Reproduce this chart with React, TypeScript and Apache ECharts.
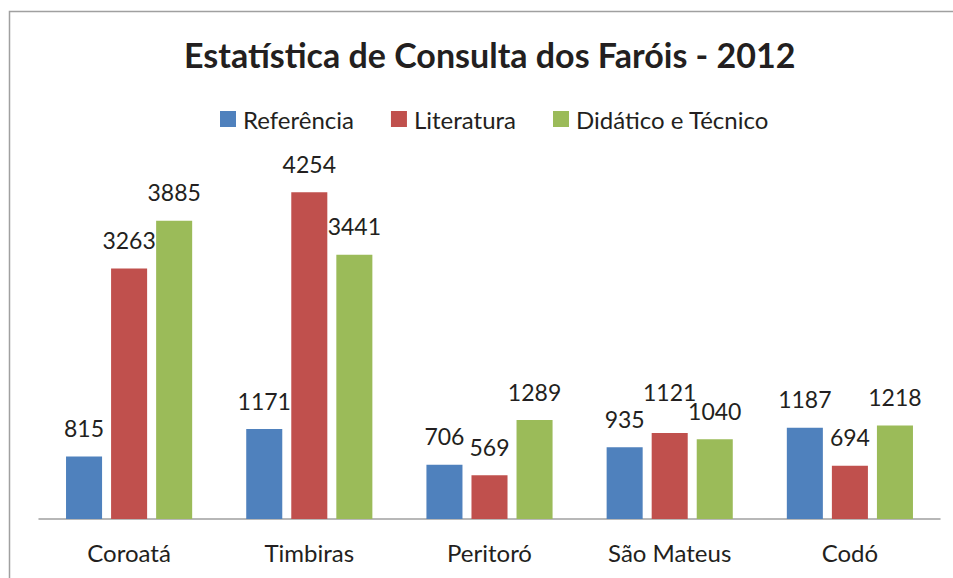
import React, { useEffect, useRef } from "react";
import * as echarts from "echarts";

const categories = ["Coroatá", "Timbiras", "Peritoró", "São Mateus", "Codó"];
const referencia = [815, 1171, 706, 935, 1187];
const literatura = [3263, 4254, 569, 1121, 694];
const didatico = [3885, 3441, 1289, 1040, 1218];
const seriesNames = ["Referência", "Literatura", "Didático e Técnico"];
const colors = ["#4F81BD", "#C0504D", "#9BBB59"];

const FONT = "Lato, 'Open Sans', sans-serif";

export default function App() {
  const ref = useRef<HTMLDivElement>(null);
  useEffect(() => {
    if (!ref.current) return;
    const chart = echarts.init(ref.current, undefined, { renderer: "svg" });
    const data = [referencia, literatura, didatico];
    chart.setOption({
      animation: false,
      backgroundColor: "#ffffff",
      textStyle: { fontFamily: FONT },
      title: {
        text: "Estatística de Consulta dos Faróis - 2012",
        left: 179,
        top: 32,
        textStyle: { fontFamily: FONT, fontSize: 34, fontWeight: "bold", color: "#231f20" },
      },
      legend: {
        data: seriesNames,
        top: 102,
        left: 215,
        itemWidth: 16,
        itemHeight: 16,
        itemGap: 37,
        icon: "rect",
        textStyle: { fontFamily: FONT, fontSize: 24, color: "#231f20", padding: [0, 0, 0, 2] },
      },
      graphic: [
        {
          type: "rect",
          shape: { x: 9.5, y: 11.5, width: 1000, height: 1000 },
          style: { fill: "none", stroke: "#a0a0a0", lineWidth: 1.5 },
          silent: true,
        },
      ],
      grid: { left: 39, right: 13, top: 135, bottom: 59, containLabel: false },
      xAxis: {
        type: "category",
        data: categories,
        axisTick: { show: false },
        axisLine: { lineStyle: { color: "#a0a0a0", width: 1.5 } },
        axisLabel: { fontFamily: FONT, fontSize: 24, color: "#231f20", margin: 21 },
      },
      yAxis: {
        type: "value",
        min: 0,
        max: 5000,
        show: false,
        splitLine: { show: false },
      },
      series: seriesNames.map((name, i) => ({
        name,
        type: "bar",
        data: data[i].map((v, j) =>
          i === 1 && j === 3 ? { value: v, label: { distance: 29 } } : v
        ),
        barGap: "25%",
        barCategoryGap: "30%",
        itemStyle: { color: colors[i] },
        label: {
          show: true,
          position: "top",
          distance: 17,
          fontFamily: FONT,
          fontSize: 23,
          color: "#231f20",
        },
      })),
    });
    return () => chart.dispose();
  }, []);
  return (
    <div
      ref={ref}
      style={{ position: "fixed", left: 0, top: 0, width: 953, height: 578 }}
    />
  );
}
